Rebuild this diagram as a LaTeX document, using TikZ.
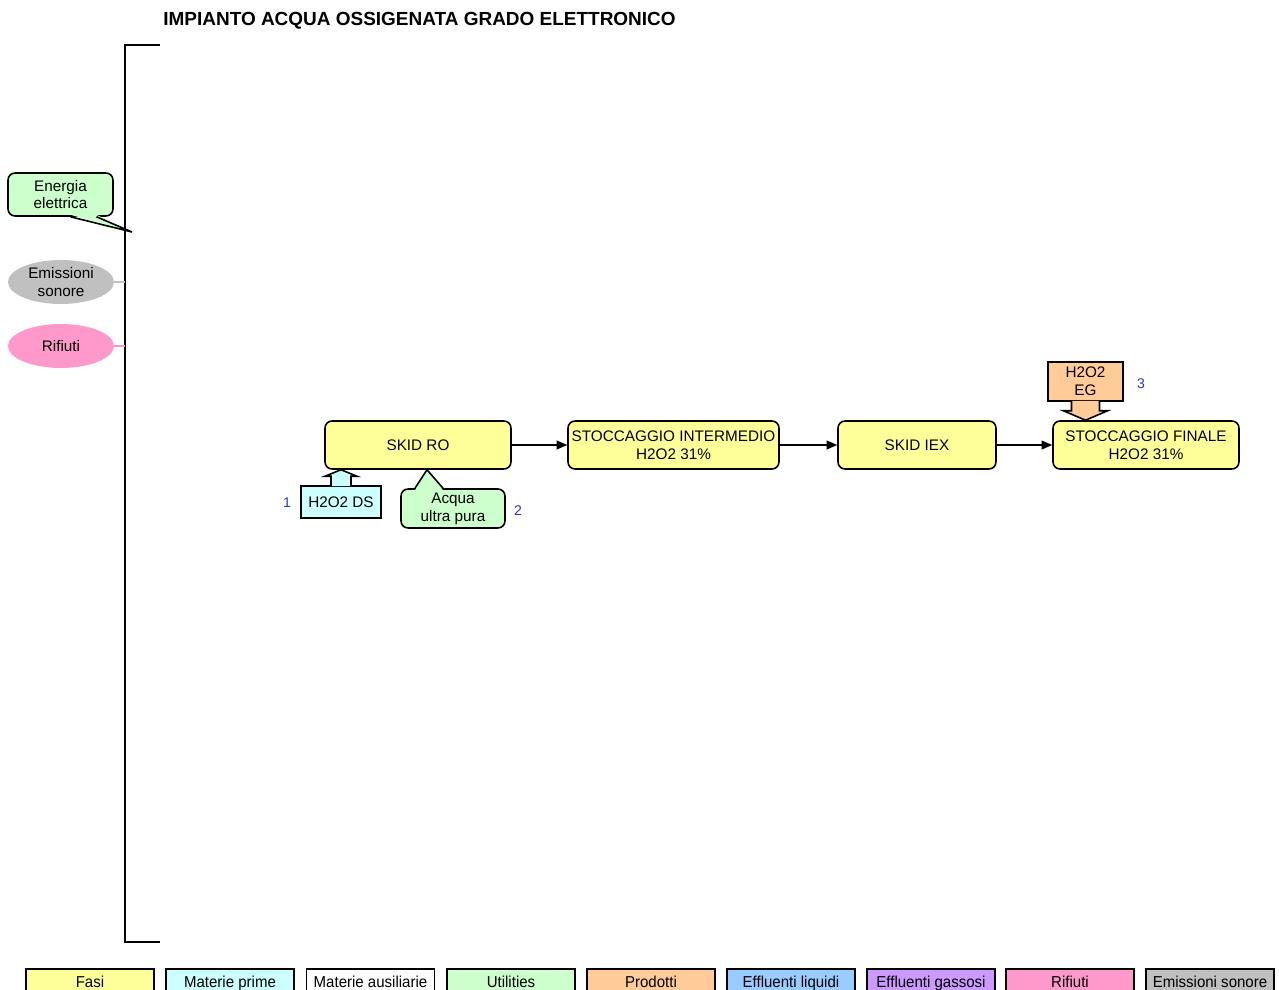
\documentclass[tikz,border=0pt]{standalone}
\usepackage{fontspec}
\setmainfont{Liberation Sans}
\newfontfamily\narrowfont[FakeStretch=0.95]{Liberation Sans}
\usetikzlibrary{calc,shapes.geometric,arrows.meta}

\definecolor{fasi}{HTML}{FFFF99}
\definecolor{mprime}{HTML}{CCFFFF}
\definecolor{utili}{HTML}{CCFFCC}
\definecolor{prodotti}{HTML}{FFCC99}
\definecolor{effliq}{HTML}{99CCFF}
\definecolor{effgas}{HTML}{CC99FF}
\definecolor{rifiuti}{HTML}{FF99CC}
\definecolor{sonore}{HTML}{C0C0C0}
\definecolor{numblu}{HTML}{3333CC}

\tikzset{
  fase/.style={draw, line width=0.9pt, rounded corners=4pt, fill=fasi,
    minimum height=0.96cm, align=center, inner sep=1pt,
    font=\fontsize{8.7}{10.2}\selectfont},
  ingresso/.style={draw, line width=0.9pt, align=center,
    font=\fontsize{8.7}{10.2}\selectfont},
  emiss/.style={ellipse, minimum width=2.12cm, minimum height=0.88cm,
    align=center, inner sep=0pt, font=\fontsize{8.7}{10.2}\selectfont},
  legenda/.style={draw, line width=0.9pt, minimum width=2.56cm,
    minimum height=0.52cm, inner sep=0pt, text height=1.6ex, text depth=0.4ex,
    font=\narrowfont\fontsize{9}{10}\selectfont},
  numero/.style={text=numblu, font=\fontsize{8}{9}\selectfont},
  freccia/.style={-{Triangle[length=6pt,width=5pt]}, line width=0.8pt},
}

\begin{document}
\begin{tikzpicture}[x=0.02cm, y=-0.02cm]
  \useasboundingbox (0,0) rectangle (1279,990);
  \clip (0,0) rectangle (1279,990);

  % titolo
  \node[anchor=west, inner sep=0pt, font=\bfseries\fontsize{10.8}{12}\selectfont] (titolo)
    at (163,21) {IMPIANTO ACQUA OSSIGENATA GRADO ELETTRONICO};

  % parentesi
  \coordinate (brtop) at (125,45);
  \coordinate (brbot) at (125,942);
  \draw[line width=1.1pt] (160,45) -- (brtop) -- (brbot) -- (160,942);

  % fasi
  \node[fase, minimum width=3.72cm] (ro) at (418,445) {SKID RO};
  \node[fase, minimum width=4.22cm] (inter) at (673.5,445)
    {STOCCAGGIO INTERMEDIO\\H2O2 31\%};
  \node[fase, minimum width=3.16cm] (iex) at (917,445) {SKID IEX};
  \node[fase, minimum width=3.72cm] (finale) at (1146,445)
    {STOCCAGGIO FINALE\\H2O2 31\%};

  \draw[freccia] (ro) -- (inter);
  \draw[freccia] (inter) -- (iex);
  \draw[freccia] (iex) -- (finale);

  % materie prime
  \node[ingresso, fill=mprime, minimum width=1.6cm, minimum height=0.64cm]
    (ds) at (341,502) {H2O2 DS};
  \filldraw[line width=0.9pt, fill=mprime]
    ($(ds.north)+(-10,1)$) -- ($(ds.north)+(-10,-9)$) -- ($(ds.north)+(-16,-9)$)
    -- (ds.north |- ro.south) -- ($(ds.north)+(16,-9)$) -- ($(ds.north)+(10,-9)$)
    -- ($(ds.north)+(10,1)$);
  \node[numero] (n1) at (287,503) {1};

  % utilities
  \node[ingresso, fill=utili, rounded corners=4pt, minimum width=2.08cm,
    minimum height=0.78cm, inner sep=1pt] (acqua) at (453,508.5) {Acqua\\ultra pura};
  \coordinate (acquatip) at ($(acqua.north |- ro.south)+(-26,0)$);
  \fill[utili] ($(acqua.north)+(-38,2)$) -- (acquatip) -- ($(acqua.north)+(-10,2)$) -- cycle;
  \draw[line width=0.9pt] ($(acqua.north)+(-38,0)$) -- (acquatip) -- ($(acqua.north)+(-10,0)$);
  \node[numero] (n2) at (518,511) {2};

  \node[ingresso, fill=utili, rounded corners=4pt, minimum width=2.1cm,
    minimum height=0.86cm, inner sep=1pt] (energia) at (60.5,194.5) {Energia\\elettrica};
  \coordinate (energiatip) at (132,232);
  \fill[utili] ($(energia.south)+(10,-2)$) -- (energiatip) -- ($(energia.south)+(36,-2)$) -- cycle;
  \draw[line width=0.9pt] ($(energia.south)+(10,0)$) -- (energiatip) -- ($(energia.south)+(36,0)$);

  % prodotti
  \node[ingresso, fill=prodotti, minimum width=1.5cm, minimum height=0.78cm,
    inner sep=1pt] (eg) at (1085.5,381.5) {H2O2\\EG};
  \filldraw[line width=0.9pt, fill=prodotti]
    ($(eg.south)+(-14,-1)$) -- ($(eg.south)+(-14,9)$) -- ($(eg.south)+(-22,9)$)
    -- (eg.south |- finale.north) -- ($(eg.south)+(22,9)$) -- ($(eg.south)+(14,9)$)
    -- ($(eg.south)+(14,-1)$);
  \node[numero] (n3) at (1141,384) {3};

  % emissioni e rifiuti
  \node[emiss, fill=sonore] (sonore) at (61,282) {Emissioni\\sonore};
  \draw[sonore, line width=1pt] (sonore.east) -- (sonore.east -| brtop);
  \node[emiss, fill=rifiuti] (rif) at (61,346) {Rifiuti};
  \draw[rifiuti, line width=1pt] (rif.east) -- (rif.east -| brtop);

  % legenda
  \node[legenda, fill=fasi] (lg1) at (90,982) {Fasi};
  \node[legenda, fill=mprime] (lg2) at (230,982) {Materie prime};
  \node[legenda, fill=white] (lg3) at (370.5,982) {Materie ausiliarie};
  \node[legenda, fill=utili] (lg4) at (511,982) {Utilities};
  \node[legenda, fill=prodotti] (lg5) at (651,982) {Prodotti};
  \node[legenda, fill=effliq] (lg6) at (791,982) {Effluenti liquidi};
  \node[legenda, fill=effgas] (lg7) at (931,982) {Effluenti gassosi};
  \node[legenda, fill=rifiuti] (lg8) at (1070,982) {Rifiuti};
  \node[legenda, fill=sonore] (lg9) at (1210,982) {Emissioni sonore};
\end{tikzpicture}
\end{document}
